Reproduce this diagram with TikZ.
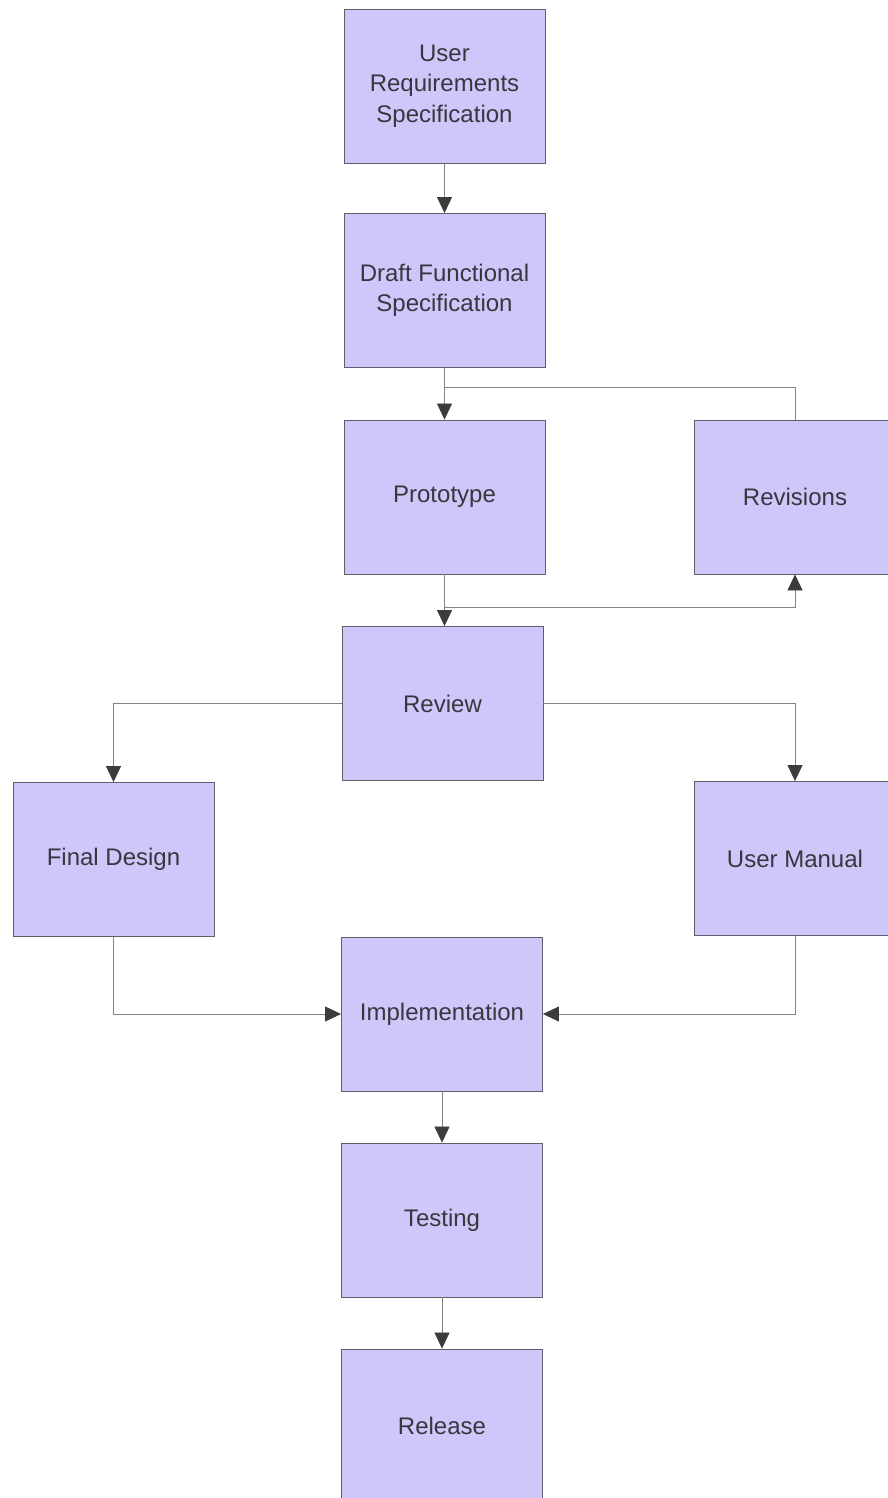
\documentclass[tikz,border=0pt]{standalone}
\usepackage{fontspec}
\setmainfont{Liberation Sans}
\usetikzlibrary{arrows.meta}
\definecolor{boxfill}{RGB}{206,199,250}
\definecolor{boxline}{RGB}{95,95,105}
\definecolor{wire}{RGB}{130,130,130}
\definecolor{tipcol}{RGB}{60,60,60}
\definecolor{labelcol}{RGB}{55,55,62}

\begin{document}
\begin{tikzpicture}[x=1pt,y=-1pt,
  stage/.style={draw=boxline, line width=0.9pt, fill=boxfill,
    minimum width=201pt, minimum height=154pt, inner sep=0pt,
    text=labelcol, font=\fontsize{24}{30.5}\selectfont, align=center},
  link/.style={draw=wire, line width=0.8pt},
  flow/.style={link, -{Triangle[length=16pt,width=15pt,fill=tipcol,color=tipcol]}}]

\path[use as bounding box] (0,0) rectangle (888,1498);
\clip (0,0) rectangle (888,1498);

% process stages
\node[stage] (urs)    at (444.5,86)    {User\\Requirements\\Specification};
\node[stage] (dfs)    at (444.5,290.5) {Draft Functional\\Specification};
\node[stage] (proto)  at (444.5,497)   {Prototype};
\node[stage] (rev)    at (795,497)     {Revisions};
\node[stage] (review) at (442.5,703.5) {Review};
\node[stage] (final)  at (113.5,859.5) {Final Design};
\node[stage] (manual) at (795,858.5)   {User Manual};
\node[stage] (impl)   at (442,1014)    {Implementation};
\node[stage] (test)   at (442,1220)    {Testing};
\node[stage] (rel)    at (442,1426)    {Release};

% junction points of the revision loop
\coordinate (split) at (444.5,387);
\coordinate (merge) at (444.5,607);

% connectors
\draw[flow] (urs) -- (dfs);
\draw[flow] (dfs) -- (proto);
\draw[link] (rev.north) |- (split);
\draw[flow] (proto.south) -- (proto.south |- review.north);
\draw[flow] (merge) -| (rev.south);
\draw[flow] (review.west) -| (final.north);
\draw[flow] (review.east) -| (manual.north);
\draw[flow] (final.south) |- (impl.west);
\draw[flow] (manual.south) |- (impl.east);
\draw[flow] (impl) -- (test);
\draw[flow] (test) -- (rel);
\end{tikzpicture}
\end{document}
